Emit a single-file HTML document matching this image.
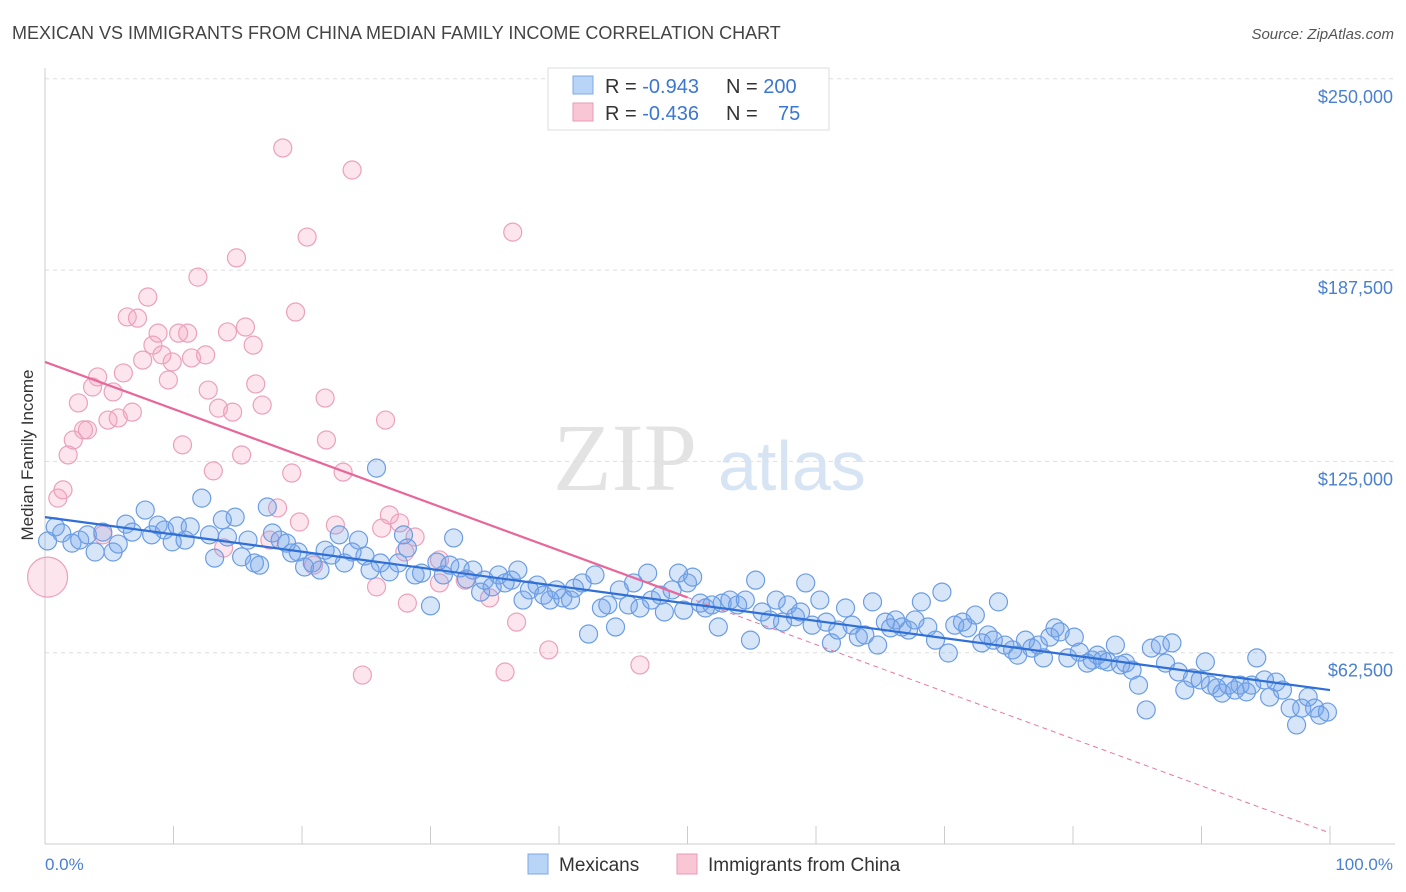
<!DOCTYPE html>
<html><head><meta charset="utf-8"><style>
body{margin:0;background:#fff;font-family:"Liberation Sans",sans-serif;}
svg{display:block}
</style></head><body>
<svg id="chart" width="1406" height="892" viewBox="0 0 1406 892" xmlns="http://www.w3.org/2000/svg">
<text x="12" y="39" font-size="18" fill="#444">MEXICAN VS IMMIGRANTS FROM CHINA MEDIAN FAMILY INCOME CORRELATION CHART</text>
<text x="1394" y="39" font-size="15" fill="#555" text-anchor="end" font-style="italic">Source: ZipAtlas.com</text>
<text x="553" y="490" font-size="96" fill="#e3e3e3" font-family="Liberation Serif">ZIP</text>
<text x="718" y="490" font-size="70" fill="#d6e4f4">atlas</text>
<g id="grid"></g>
<g id="axes"></g>
<g id="pink"></g>
<g id="blue"></g>
<g id="trends"></g>
<text transform="translate(33,455) rotate(-90)" font-size="17" fill="#333" text-anchor="middle">Median Family Income</text>
<text x="45" y="870" font-size="17" fill="#4a80d0">0.0%</text>
<text x="1393" y="870" font-size="17" fill="#4a80d0" text-anchor="end">100.0%</text>
<g>
<rect x="548" y="68" width="281" height="62" fill="#fff" stroke="#ddd"/>
<rect x="573" y="76" width="20" height="18" fill="#b8d4f6" stroke="#7ea8e6"/>
<rect x="573" y="103" width="20" height="18" fill="#f9c6d6" stroke="#eb9ab6"/>
<text x="605" y="93" font-size="20" fill="#333">R = <tspan fill="#3b76d0">-0.943</tspan><tspan x="726">N = </tspan><tspan fill="#3b76d0">200</tspan></text>
<text x="605" y="120" font-size="20" fill="#333">R = <tspan fill="#3b76d0">-0.436</tspan><tspan x="726">N = </tspan><tspan fill="#3b76d0" x="778">75</tspan></text>
</g>
<g>
<rect x="528" y="854" width="20" height="20" fill="#b8d4f6" stroke="#7ea8e6"/>
<text x="559" y="871" font-size="19" fill="#333">Mexicans</text>
<rect x="677" y="854" width="20" height="20" fill="#f9c6d6" stroke="#eb9ab6"/>
<text x="708" y="871" font-size="19" fill="#333">Immigrants from China</text>
</g>
</svg>
<script>
const yTicks=[62500,125000,187500,250000];
const yTickLabels=["$62,500","$125,000","$187,500","$250,000"];
const xTicks=[0,10,20,30,40,50,60,70,80,90,100];
const blueX=[0.2,0.8,1.3,2.1,2.7,3.3,3.9,4.5,5.3,5.7,6.3,6.8,7.8,8.3,8.8,9.3,9.9,10.3,10.9,11.3,12.2,12.8,13.2,13.8,14.2,14.8,15.3,15.8,16.3,16.7,17.3,17.7,18.3,18.8,19.2,19.7,20.2,20.8,21.4,21.8,22.3,22.9,23.3,23.9,24.4,24.9,25.3,25.8,26.1,26.8,27.5,27.9,28.2,28.8,29.3,30.0,30.5,31.0,31.5,31.8,32.3,32.8,33.3,33.9,34.2,34.8,35.3,35.8,36.3,36.8,37.2,37.7,38.3,38.8,39.3,39.8,40.3,40.9,41.2,41.8,42.3,42.8,43.3,43.8,44.4,44.7,45.4,45.8,46.3,46.9,47.2,47.9,48.2,48.8,49.3,49.7,50.0,50.4,51.0,51.4,51.9,52.4,52.7,53.3,53.9,54.5,54.9,55.3,55.8,56.4,56.9,57.4,57.8,58.4,58.8,59.2,59.7,60.3,60.8,61.2,61.7,62.3,62.8,63.3,63.8,64.4,64.8,65.4,65.8,66.2,66.7,67.2,67.7,68.2,68.7,69.3,69.8,70.3,70.8,71.4,71.8,72.4,72.9,73.4,73.8,74.2,74.7,75.3,75.7,76.3,76.8,77.3,77.7,78.2,78.6,79.0,79.6,80.1,80.5,81.1,81.5,81.9,82.3,82.7,83.3,83.7,84.1,84.6,85.1,85.7,86.1,86.8,87.2,87.7,88.2,88.7,89.3,89.9,90.3,90.7,91.2,91.6,92.1,92.6,93.0,93.5,93.9,94.3,94.9,95.3,95.8,96.3,96.9,97.4,97.8,98.3,98.8,99.2,99.8];
const blueY=[99.0,103.6,101.6,98.3,99.3,101.0,95.4,101.9,95.4,98.0,104.5,101.9,109.1,101.0,104.2,102.6,98.7,103.9,99.3,103.6,113.0,101.0,93.4,105.9,100.3,106.8,93.8,99.3,91.8,91.1,110.1,101.6,99.3,98.3,95.1,95.4,90.5,91.8,89.5,96.0,94.4,101.0,91.8,95.4,99.3,94.1,89.5,122.8,91.8,88.9,91.8,101.0,96.7,87.9,88.5,77.8,92.1,87.9,91.1,100.0,90.2,86.6,89.5,82.3,86.2,84.0,87.9,85.3,86.2,89.5,79.7,83.0,84.6,81.3,79.7,83.0,80.4,79.7,83.6,85.3,68.6,87.9,77.1,78.1,70.9,83.0,78.1,85.3,77.1,88.5,79.7,81.3,75.8,83.0,88.5,76.4,85.3,87.2,78.7,77.1,78.1,70.9,78.7,79.7,78.1,79.7,66.6,86.2,75.8,73.2,79.7,72.5,78.1,74.2,75.8,85.3,71.5,79.7,72.5,65.7,69.9,77.1,71.5,67.6,68.3,79.1,65.0,72.5,70.6,73.2,70.9,69.9,73.2,79.1,70.9,66.6,82.3,62.4,71.5,72.5,70.6,74.8,65.7,68.3,66.6,79.1,65.0,63.4,61.7,66.6,64.0,65.0,60.8,67.6,70.6,69.3,60.8,67.6,62.7,59.1,60.1,61.7,60.1,59.5,65.0,58.5,59.1,56.8,51.9,43.8,64.0,65.0,59.1,65.7,56.2,50.3,54.2,53.6,59.5,51.9,51.0,49.3,51.9,50.3,51.9,49.7,51.9,60.8,53.6,48.0,52.9,50.3,44.4,38.9,44.4,48.0,44.4,42.1,43.1];
const pinkX=[0.2,1.0,1.4,1.8,2.2,2.6,3.0,3.3,3.7,4.1,4.5,4.9,5.3,5.7,6.1,6.4,6.8,7.2,7.6,8.0,8.4,8.8,9.1,9.6,9.9,10.4,10.7,11.1,11.4,11.9,12.5,12.7,13.1,13.5,13.9,14.2,14.6,14.9,15.3,15.6,16.2,16.4,16.9,17.5,18.1,18.5,19.2,19.5,19.8,20.4,20.9,21.8,21.9,22.6,23.2,23.9,24.7,25.8,26.2,26.5,26.8,27.6,28.0,28.2,28.8,30.7,30.7,32.7,34.6,35.8,36.4,36.7,39.2,46.3];
const pinkY=[87.2,113.0,115.7,127.1,132.0,144.1,135.3,135.3,149.3,152.6,101.0,138.5,147.7,139.2,153.9,172.2,141.1,171.8,158.1,178.7,163.0,166.9,159.8,151.6,157.5,166.9,130.4,166.9,158.8,185.2,159.8,148.3,121.9,142.4,96.7,167.3,141.1,191.5,127.1,168.9,163.0,150.3,143.4,99.3,109.8,227.4,121.2,173.8,105.2,198.3,91.1,145.7,132.0,104.2,121.5,220.2,55.2,84.0,103.2,138.5,107.5,104.9,95.4,78.7,100.3,92.8,85.3,86.2,80.4,56.2,199.9,72.5,63.4,58.5];
const blueTrend=[106.8,50.3];
const pinkTrend=[157.5,3.6];
const NS="http://www.w3.org/2000/svg";
const X0=45,X1=1330,YB=844,PXK=191.3/62.5;
function xs(p){return X0+(X1-X0)*p/100;}
function ys(k){return YB-k*PXK;}
function mk(tag,attrs,parent){const e=document.createElementNS(NS,tag);for(const k in attrs)e.setAttribute(k,attrs[k]);parent.appendChild(e);return e;}
const grid=document.getElementById('grid'),axes=document.getElementById('axes');
yTicks.forEach((v,i)=>{
 const y=ys(v/1000);
 const l=mk('line',{x1:45,x2:1395,y1:y,y2:y,stroke:'#ddd','stroke-dasharray':'4,4'},grid);
 
 
 const t=mk('text',{x:1393,y:y+24,'font-size':18,fill:'#4a80d0','text-anchor':'end'},grid);
 t.textContent=yTickLabels[i];
 
 
});
const al=mk('line',{x1:45,x2:45,y1:68,y2:844,stroke:'#ccc'},axes);


const bl=mk('line',{x1:45,x2:1395,y1:844,y2:844,stroke:'#ccc'},axes);


xTicks.forEach(v=>{const t=mk('line',{x1:xs(v),x2:xs(v),y1:826,y2:844,stroke:'#ccc'},axes);
 
 });
const pg=document.getElementById('pink');
pinkX.forEach((x,i)=>{const c=mk('circle',{cx:xs(x),cy:ys(pinkY[i]),r:i===0?20:9,fill:'rgba(244,160,190,0.28)',stroke:'#eba1bb','stroke-width':1.2},pg);
 
 });
const bg=document.getElementById('blue');
blueX.forEach((x,i)=>{const c=mk('circle',{cx:xs(x),cy:ys(blueY[i]),r:9,fill:'rgba(110,160,235,0.28)',stroke:'#6c9de3','stroke-width':1.2},bg);
 
 });
const tg=document.getElementById('trends');
const pm=(pinkTrend[0]+pinkTrend[1])/2;
const pd=mk('line',{x1:xs(50),y1:ys(pm),x2:xs(100),y2:ys(pinkTrend[1]),stroke:'#e8779e','stroke-width':1,'stroke-dasharray':'5,4'},tg);


const ps=mk('line',{x1:xs(0),y1:ys(pinkTrend[0]),x2:xs(50),y2:ys(pm),stroke:'#e8679a','stroke-width':2.2},tg);


const bt=mk('line',{x1:xs(0),y1:ys(blueTrend[0]),x2:xs(100),y2:ys(blueTrend[1]),stroke:'#2f6fd6','stroke-width':2.2},tg);


</script>
</body></html>
